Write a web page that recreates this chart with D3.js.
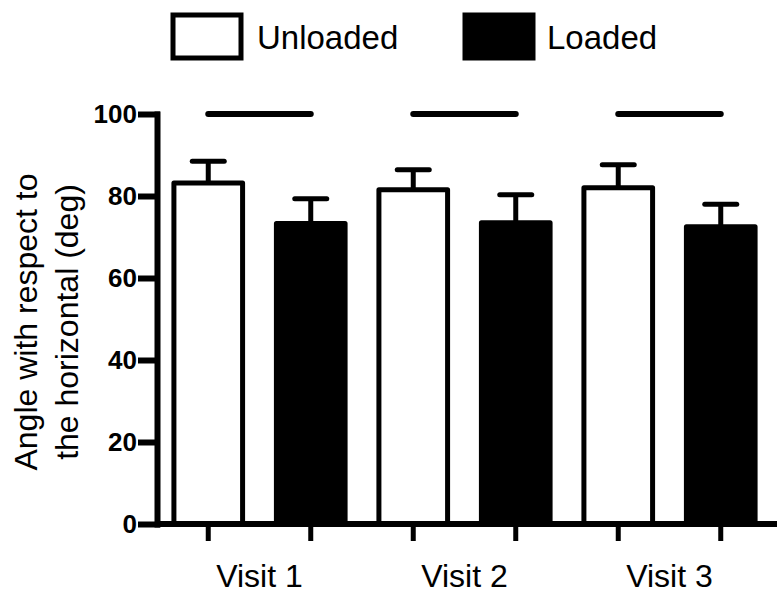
<!DOCTYPE html>
<html lang="en">

<head>
    <meta charset="UTF-8">
    <style>
        body { margin: 0; background: #fff; }
        text { font-family: "Liberation Sans", Arial, sans-serif; fill: #000; }
    </style>
</head>

<body>
    <svg width="777" height="603"></svg>
    <script src="https://d3js.org/d3.v7.min.js"></script>
    <script>
        // data
        const visits = ["Visit 1", "Visit 2", "Visit 3"]
        const series = ["Unloaded", "Loaded"]
        const unloadedMean = [83.2, 81.5, 82.0]
        const unloadedErr = [5.3, 4.9, 5.6]
        const loadedMean = [73.3, 73.5, 72.5]
        const loadedErr = [6.0, 6.8, 5.5]
        const yTicks = [0, 20, 40, 60, 80, 100]
        const sigLevel = 100

        const rows = []
        visits.forEach((v, i) => {
            rows.push({ visit: v, s: "Unloaded", mean: unloadedMean[i], err: unloadedErr[i] })
            rows.push({ visit: v, s: "Loaded", mean: loadedMean[i], err: loadedErr[i] })
        })
        const key = d => d.visit + "|" + d.s

        const svg = d3.select("svg")
        const plotLeft = 157, plotRight = 772, plotTop = 114, plotBottom = 524

        const y = d3.scaleLinear().domain([0, 100]).range([plotBottom, plotTop])
        const x0 = d3.scaleBand().domain(visits).range([plotLeft, plotRight])
        const pad = 0.33
        const xb = d3.scaleBand().domain(rows.map(key)).range([plotLeft, plotRight])
            .paddingInner(pad).paddingOuter(pad / 2)
        const bw = xb.bandwidth()

        // significance lines
        svg.append("g").selectAll("line")
            .data(visits).join("line")
            .attr("x1", v => xb(v + "|Unloaded") + bw / 2)
            .attr("x2", v => xb(v + "|Loaded") + bw / 2)
            .attr("y1", y(sigLevel)).attr("y2", y(sigLevel))
            .attr("stroke", "#000").attr("stroke-width", 6)
            .attr("stroke-linecap", "round")

        // error bars (upper only)
        const eb = svg.append("g").attr("stroke", "#000").attr("stroke-width", 5)
        eb.selectAll("line.v").data(rows).join("line").attr("class", "v")
            .attr("x1", d => xb(key(d)) + bw / 2).attr("x2", d => xb(key(d)) + bw / 2)
            .attr("y1", d => y(d.mean)).attr("y2", d => y(d.mean + d.err))
        eb.selectAll("line.c").data(rows).join("line").attr("class", "c")
            .attr("stroke-linecap", "round")
            .attr("x1", d => xb(key(d)) + bw / 2 - 16).attr("x2", d => xb(key(d)) + bw / 2 + 16)
            .attr("y1", d => y(d.mean + d.err)).attr("y2", d => y(d.mean + d.err))

        // bars
        svg.append("g").selectAll("rect")
            .data(rows).join("rect")
            .attr("x", d => xb(key(d)))
            .attr("width", bw)
            .attr("y", d => y(d.mean))
            .attr("height", d => y(0) - y(d.mean))
            .attr("fill", d => d.s == "Unloaded" ? "#fff" : "#000")
            .attr("stroke", "#000")
            .attr("stroke-width", 5)
            .attr("stroke-linejoin", "round")

        // y axis
        const gy = svg.append("g")
            .attr("transform", `translate(${plotLeft},0)`)
            .call(d3.axisLeft(y).tickValues(yTicks).tickSize(16).tickSizeOuter(0).tickPadding(4))
        gy.selectAll("path,line").attr("stroke", "#000").attr("stroke-width", 6).attr("stroke-linecap", "square")
        gy.selectAll("text").style("font-size", "26px").style("font-weight", "bold")
            .style("font-family", '"Liberation Sans", Arial, sans-serif').attr("fill", "#000")

        // x axis, ticks at every bar
        const gx = svg.append("g")
            .attr("transform", `translate(0,${plotBottom})`)
            .call(d3.axisBottom(xb).tickSize(17).tickSizeOuter(0).tickFormat(""))
        gx.select(".domain").attr("d", `M${plotLeft},0H777`)
        gx.selectAll("path,line").attr("stroke", "#000").attr("stroke-width", 6)
        gx.selectAll("line").attr("stroke-width", 5)

        svg.append("g").selectAll("text")
            .data(visits).join("text")
            .attr("x", v => x0(v) + x0.bandwidth() / 2)
            .attr("y", 587)
            .attr("text-anchor", "middle")
            .style("font-size", "32px")
            .text(v => v)

        // y title
        const titleLines = ["Angle with respect to", "the horizontal (deg)"]
        svg.append("g").selectAll("text")
            .data(titleLines).join("text")
            .attr("transform", (t, i) => `translate(${37 + i * 41},322) rotate(-90)`)
            .attr("text-anchor", "middle")
            .style("font-size", "32px")
            .text(t => t)

        // legend
        const legX = [173, 465]
        const lg = svg.append("g").selectAll("g")
            .data(series).join("g")
            .attr("transform", (s, i) => `translate(${legX[i]},15)`)
        lg.append("rect")
            .attr("width", 68).attr("height", 43)
            .attr("fill", s => s == "Unloaded" ? "#fff" : "#000")
            .attr("stroke", "#000").attr("stroke-width", 5)
        lg.append("text")
            .attr("x", (s, i) => i == 0 ? 84 : 82)
            .attr("y", 34)
            .style("font-size", "33px")
            .text(s => s)
    </script>
</body>

</html>
